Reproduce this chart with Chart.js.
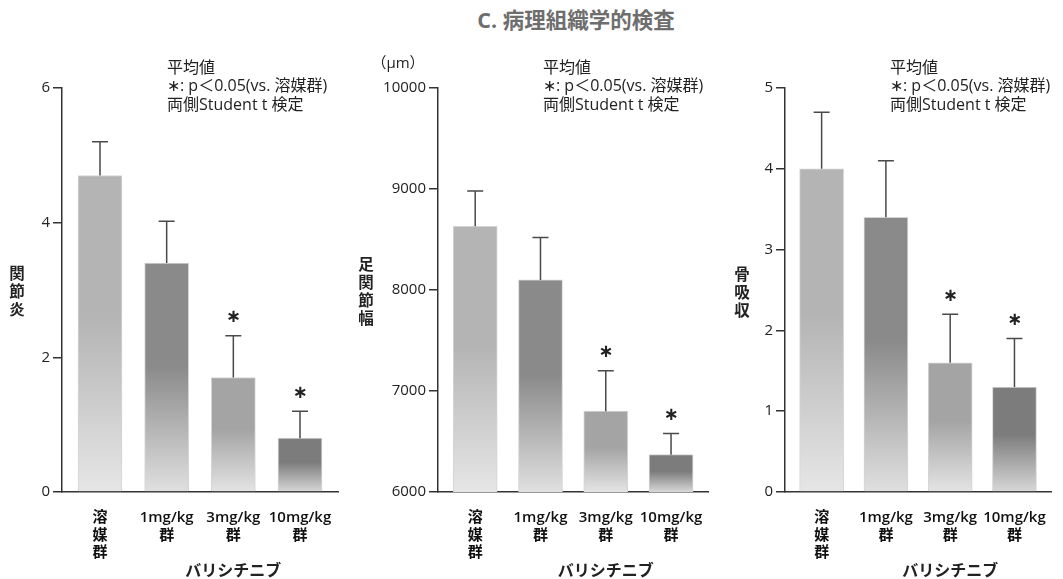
<!DOCTYPE html>
<html><head><meta charset="utf-8">
<script src="https://cdn.jsdelivr.net/npm/chart.js@4.4.1/dist/chart.umd.min.js"></script>
<style>
html,body{margin:0;padding:0;background:#fff;width:1063px;height:579px;overflow:hidden;}
canvas{position:absolute;top:0;}
#title{position:absolute;top:7px;left:376px;width:400px;text-align:center;font:bold 21.5px 'Open Sans','Noto Sans CJK JP',sans-serif;color:#6e6e6e;line-height:26px;}
</style></head><body>
<div id="title">C. 病理組織学的検査</div>
<canvas id="c1"></canvas>
<canvas id="c2"></canvas>
<canvas id="c3"></canvas>
<script>
// ---- data ----
const categories = [['溶','媒','群'], ['1mg/kg','群'], ['3mg/kg','群'], ['10mg/kg','群']];
const drugName = 'バリシチニブ';
const significant = [false, false, true, true];

const arthritisMean  = [4.7, 3.4, 1.7, 0.8];
const arthritisUpper = [5.2, 4.02, 2.32, 1.2];
const arthritisTicks = [0, 6, 2];

const ankleMean  = [8630, 8100, 6800, 6370];
const ankleUpper = [8980, 8520, 7200, 6580];
const ankleTicks = [6000, 10000, 1000];

const boneMean  = [4.0, 3.4, 1.6, 1.3];
const boneUpper = [4.7, 4.1, 2.2, 1.9];
const boneTicks = [0, 5, 1];

const noteLines = ['平均値', '∗: p＜0.05(vs. 溶媒群)', '両側Student t 検定'];

// ---- styles ----
const barTop = ['#b4b4b4', '#8a8a8a', '#a4a4a4', '#7c7c7c'];
const barBottom = ['#e6e6e6', '#e0e0e0', '#e4e4e4', '#d8d8d8'];
const JP = "'Noto Sans CJK JP', 'Noto Sans', sans-serif";
const LAT = "'Open Sans', 'Noto Sans CJK JP', sans-serif";
const H = 579;

const decor = {
  id: 'decor',
  afterDatasetsDraw(chart) {
    const o = chart.options.plugins.decor;
    const ctx = chart.ctx, xs = chart.scales.x, ys = chart.scales.y;
    const ca = chart.chartArea;
    ctx.save();
    // error bars + asterisks
    ctx.strokeStyle = '#4a4a4a';
    ctx.lineWidth = 1.5;
    o.mean.forEach((m, i) => {
      const px = xs.getPixelForValue(i);
      const yt = ys.getPixelForValue(m);
      const ye = ys.getPixelForValue(o.upper[i]);
      ctx.beginPath();
      ctx.moveTo(px, yt); ctx.lineTo(px, ye);
      ctx.moveTo(px - 8, ye); ctx.lineTo(px + 8, ye);
      ctx.stroke();
      if (significant[i]) {
        ctx.fillStyle = '#222';
        ctx.font = 'bold 18px "DejaVu Sans", sans-serif';
        ctx.textAlign = 'center'; ctx.textBaseline = 'middle';
        ctx.fillText('∗', px, ye - 18);
      }
    });
    // notes
    ctx.fillStyle = '#222';
    ctx.font = '16px ' + LAT;
    ctx.textAlign = 'left'; ctx.textBaseline = 'middle';
    noteLines.forEach((t, k) => ctx.fillText(t, ca.left + 105, 68 + k * 18.5));
    // y title (stacked)
    ctx.font = 'bold 15.5px ' + JP;
    ctx.textAlign = 'center';
    const chars = Array.from(o.yTitle);
    const cy = o.yTitleY;
    chars.forEach((c, k) => ctx.fillText(c, o.yTitleX, cy + (k - (chars.length - 1) / 2) * 18));
    // unit
    if (o.unit) {
      ctx.font = '15px ' + LAT;
      ctx.fillText(o.unit, o.unitX, 64);
    }
    // drug name
    ctx.font = 'bold 16px ' + JP;
    ctx.textAlign = 'center';
    ctx.fillText(drugName, (xs.getPixelForValue(1) + xs.getPixelForValue(3)) / 2, 570);
    ctx.restore();
  }
};

function makePanel(p) {
  const cv = document.getElementById(p.id);
  cv.width = p.width; cv.height = H;
  cv.style.left = p.left + 'px';
  cv.style.width = p.width + 'px'; cv.style.height = H + 'px';
  return new Chart(cv, {
    type: 'bar',
    data: {
      datasets: [{
        data: p.mean.map((v, i) => ({x: i, y: v})),
        barThickness: 44,
        borderColor: '#d4d4d4',
        borderWidth: 1,
        backgroundColor: (c) => {
          const ch = c.chart;
          if (!ch.chartArea || c.dataIndex === undefined) return '#bbb';
          const i = c.dataIndex;
          const y0 = ch.scales.y.getPixelForValue(p.mean[i]);
          const y1 = ch.scales.y.bottom;
          const g = ch.ctx.createLinearGradient(0, y0, 0, y1);
          g.addColorStop(0, barTop[i]);
          g.addColorStop(0.45, barTop[i]);
          g.addColorStop(1, barBottom[i]);
          return g;
        }
      }]
    },
    options: {
      responsive: false,
      animation: false,
      layout: {padding: {left: 0, right: p.padRight, top: 88, bottom: 0}},
      plugins: {
        legend: {display: false},
        tooltip: {enabled: false},
        decor: {mean: p.mean, upper: p.upper, yTitle: p.yTitle, yTitleX: p.yTitleX, yTitleY: p.yTitleY, unit: p.unit, unitX: p.unitX}
      },
      scales: {
        x: {
          type: 'linear',
          offset: false,
          min: -0.57, max: 3.57,
          afterBuildTicks: (s) => { s.ticks = [0, 1, 2, 3].map(v => ({value: v})); },
          afterFit: (s) => { s.height = H - 492; },
          grid: {display: false, drawTicks: false, offset: false},
          border: {display: true, color: '#333', width: 1.5},
          ticks: {
            autoSkip: false, maxRotation: 0, padding: 17,
            color: '#111',
            font: {family: LAT, size: 15, weight: '600', lineHeight: 1.17},
            callback: (v) => categories[v]
          }
        },
        y: {
          min: p.ticks[0], max: p.ticks[1],
          afterFit: (s) => { s.width = p.axisX - p.left; },
          grid: {display: true, drawOnChartArea: false, drawTicks: true, tickLength: 9, color: '#333', lineWidth: 1.5},
          border: {display: true, color: '#333', width: 1.5},
          ticks: {stepSize: p.ticks[2], padding: 3, color: '#222', font: {family: "'Open Sans', sans-serif", size: 15},
            callback: (v) => String(v)}
        }
      }
    },
    plugins: [decor]
  });
}

makePanel({id: 'c1', left: 0, width: 350, padRight: 12, axisX: 62,
  mean: arthritisMean, upper: arthritisUpper, ticks: arthritisTicks,
  yTitle: '関節炎', yTitleX: 17, yTitleY: 291});
makePanel({id: 'c2', left: 350, width: 370, padRight: 5, axisX: 438,
  mean: ankleMean, upper: ankleUpper, ticks: ankleTicks,
  yTitle: '足関節幅', yTitleX: 16, yTitleY: 291, unit: '（μm）', unitX: 48});
makePanel({id: 'c3', left: 720, width: 343, padRight: 2, axisX: 785,
  mean: boneMean, upper: boneUpper, ticks: boneTicks,
  yTitle: '骨吸収', yTitleX: 22, yTitleY: 292});
</script>
</body></html>
